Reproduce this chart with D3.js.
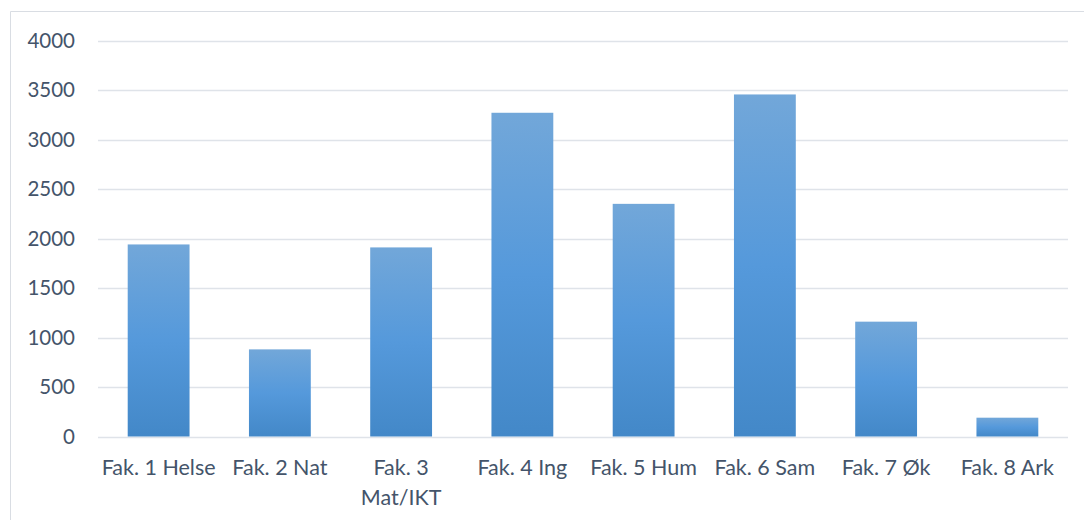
<!DOCTYPE html>
<html>
<head>
<meta charset="utf-8">
<script src="https://cdn.jsdelivr.net/npm/d3@7"></script>
<style>
  html, body { margin: 0; padding: 0; background: #ffffff; }
  svg { display: block; }
  text { font-family: Lato, "Open Sans", sans-serif; fill: #44546a; }
</style>
</head>
<body>
<svg id="chart" width="1084" height="520"></svg>
<script>
// Students per faculty
const faculties = ["Fak. 1 Helse", "Fak. 2 Nat", "Fak. 3 Mat/IKT", "Fak. 4 Ing", "Fak. 5 Hum", "Fak. 6 Sam", "Fak. 7 Øk", "Fak. 8 Ark"];
const students = [1940, 880, 1910, 3270, 2350, 3455, 1160, 190];
const yTicks = [0, 500, 1000, 1500, 2000, 2500, 3000, 3500, 4000];

const svg = d3.select("#chart");
const W = 1084, H = 520;
const plot = { left: 98, right: 1068, top: 40.5, bottom: 436.5 };

// Outer chart frame (top and left edges visible)
svg.append("path")
  .attr("d", `M10.5,${H} L10.5,11.5 L${W},11.5`)
  .attr("fill", "none")
  .attr("stroke", "#d9dde3")
  .attr("stroke-width", 1);

const x = d3.scaleBand()
  .domain(faculties)
  .range([plot.left, plot.right])
  .paddingInner(0.49)
  .paddingOuter(0.245);

const y = d3.scaleLinear()
  .domain([0, 4000])
  .range([plot.bottom, plot.top]);

// Vertical gradient for bars
const defs = svg.append("defs");
const grad = defs.append("linearGradient")
  .attr("id", "barGrad")
  .attr("x1", 0).attr("y1", 0).attr("x2", 0).attr("y2", 1);
grad.append("stop").attr("offset", "0%").attr("stop-color", "#72a7d9");
grad.append("stop").attr("offset", "50%").attr("stop-color", "#5599db");
grad.append("stop").attr("offset", "100%").attr("stop-color", "#4388c8");

// Gridlines
svg.append("g")
  .selectAll("line")
  .data(yTicks)
  .join("line")
  .attr("x1", plot.left)
  .attr("x2", plot.right)
  .attr("y1", d => Math.round(y(d)) + 0.5)
  .attr("y2", d => Math.round(y(d)) + 0.5)
  .attr("stroke", "#dfe3e9")
  .attr("stroke-width", 1.6);

// Y axis labels
const yAxis = d3.axisLeft(y).tickValues(yTicks).tickSize(0).tickPadding(0).tickFormat(d3.format("d"));
const gy = svg.append("g")
  .attr("transform", `translate(75,0)`)
  .call(yAxis);
gy.select(".domain").remove();
gy.selectAll("text")
  .attr("font-size", 20.5)
  .attr("font-family", "Lato, sans-serif")
  .attr("fill", "#44546a");

// Bars
svg.append("g")
  .selectAll("rect")
  .data(faculties.map((f, i) => ({ f, v: students[i] })))
  .join("rect")
  .attr("x", d => x(d.f))
  .attr("width", x.bandwidth())
  .attr("y", d => y(d.v))
  .attr("height", d => y(0) - y(d.v))
  .attr("fill", "url(#barGrad)");

// X axis labels (wrapped where the band is too narrow)
const xAxis = d3.axisBottom(x).tickSize(0).tickPadding(0);
const gx = svg.append("g")
  .attr("transform", `translate(0,${plot.bottom})`)
  .call(xAxis);
gx.select(".domain").remove();
gx.selectAll("text")
  .attr("font-size", 21.5)
  .attr("font-family", "Lato, sans-serif")
  .attr("fill", "#44546a")
  .attr("dy", null)
  .attr("y", 0)
  .each(function(d) {
    const t = d3.select(this);
    t.text(null);
    const lines = d === "Fak. 3 Mat/IKT" ? ["Fak. 3", "Mat/IKT"] : [d];
    lines.forEach((ln, i) => {
      t.append("tspan").attr("x", 0).attr("y", 38 + i * 30).text(ln);
    });
  });
</script>
</body>
</html>
